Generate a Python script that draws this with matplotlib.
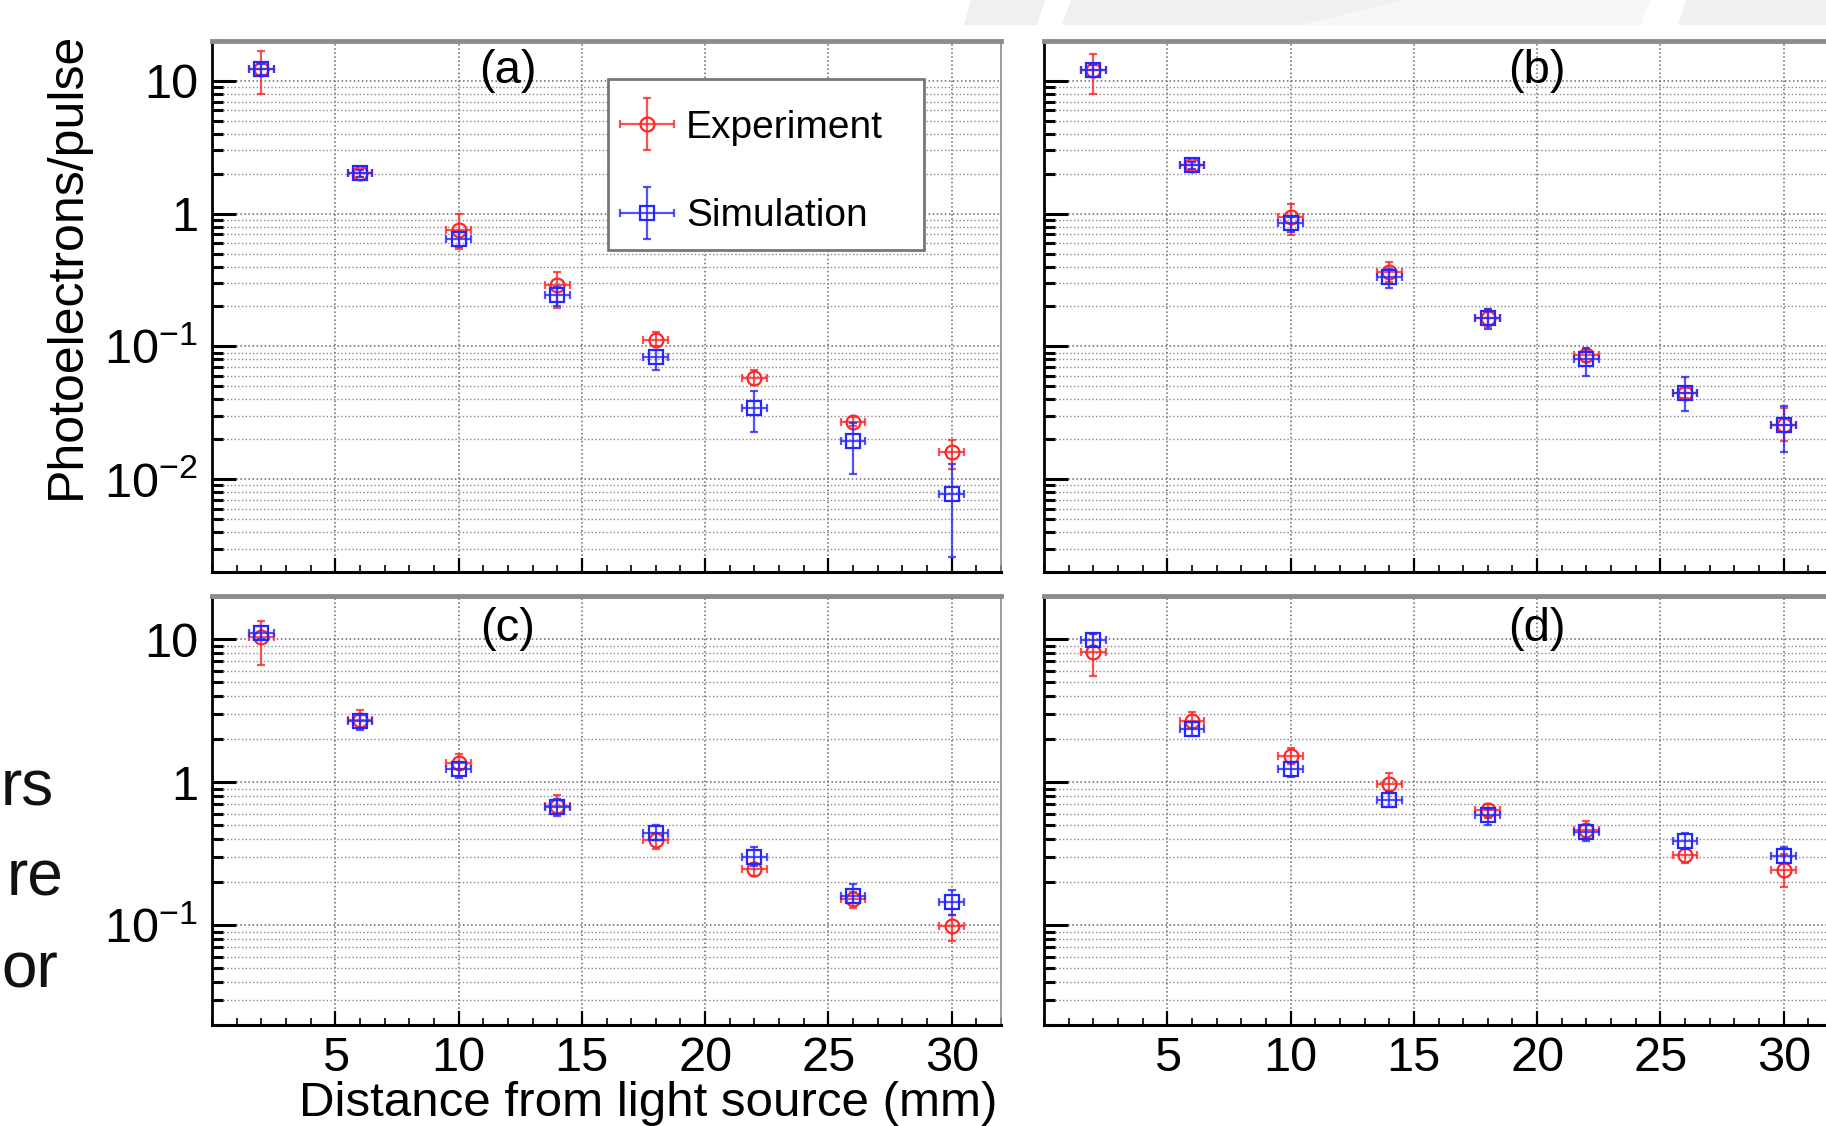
import numpy as np
import matplotlib
matplotlib.use('Agg')
import matplotlib.pyplot as plt
from matplotlib.patches import Polygon, Rectangle
from matplotlib.ticker import LogLocator, NullFormatter, FixedLocator, MultipleLocator
from matplotlib.container import ErrorbarContainer
from matplotlib.legend_handler import HandlerErrorbar

plt.rcParams['font.family'] = ['Liberation Sans', 'DejaVu Sans']
plt.rcParams['mathtext.fontset'] = 'custom'
plt.rcParams['mathtext.rm'] = 'Liberation Sans'
plt.rcParams['mathtext.it'] = 'Liberation Sans:italic'
plt.rcParams['mathtext.default'] = 'regular'

# Data (distance in mm, photoelectrons/pulse)
dist = [2, 6, 10, 14, 18, 22, 26, 30]
xerr = 0.5

exp_a = [12.3, 2.02, 0.76, 0.289, 0.112, 0.058, 0.0271, 0.016]
exp_a_lo = [8.0, 1.88, 0.54, 0.196, 0.100, 0.051, 0.0250, 0.012]
exp_a_hi = [16.9, 2.18, 1.00, 0.362, 0.129, 0.066, 0.0295, 0.0198]
sim_a = [12.3, 2.02, 0.646, 0.246, 0.0835, 0.0346, 0.0194, 0.00773]
sim_a_lo = [11.0, 1.90, 0.557, 0.200, 0.066, 0.0227, 0.011, 0.0026]
sim_a_hi = [13.5, 2.14, 0.73, 0.28, 0.094, 0.0464, 0.0266, 0.0131]

exp_b = [12.05, 2.31, 0.95, 0.367, 0.164, 0.0863, 0.0448, 0.0256]
exp_b_lo = [7.93, 2.15, 0.69, 0.308, 0.140, 0.077, 0.041, 0.0194]
exp_b_hi = [15.9, 2.48, 1.19, 0.431, 0.192, 0.094, 0.049, 0.0346]
sim_b = [12.05, 2.31, 0.846, 0.333, 0.164, 0.0798, 0.0448, 0.0256]
sim_b_lo = [10.8, 2.17, 0.734, 0.275, 0.135, 0.0598, 0.0325, 0.016]
sim_b_hi = [13.3, 2.45, 0.95, 0.386, 0.193, 0.0968, 0.0586, 0.0353]

exp_c = [10.3, 2.72, 1.36, 0.684, 0.396, 0.246, 0.152, 0.0986]
exp_c_lo = [6.56, 2.40, 1.23, 0.595, 0.34, 0.22, 0.132, 0.0776]
exp_c_hi = [13.4, 3.20, 1.56, 0.809, 0.437, 0.272, 0.169, 0.118]
sim_c = [11.0, 2.66, 1.23, 0.673, 0.438, 0.300, 0.160, 0.146]
sim_c_lo = [9.97, 2.30, 1.07, 0.578, 0.392, 0.26, 0.143, 0.118]
sim_c_hi = [12.3, 2.92, 1.37, 0.765, 0.503, 0.35, 0.195, 0.176]

exp_d = [8.1, 2.69, 1.52, 0.967, 0.64, 0.463, 0.31, 0.244]
exp_d_lo = [5.55, 2.40, 1.34, 0.832, 0.563, 0.403, 0.272, 0.186]
exp_d_hi = [10.8, 3.09, 1.72, 1.15, 0.703, 0.532, 0.34, 0.313]
sim_d = [9.86, 2.36, 1.23, 0.752, 0.585, 0.45, 0.385, 0.305]
sim_d_lo = [8.92, 2.09, 1.09, 0.665, 0.503, 0.385, 0.34, 0.272]
sim_d_hi = [10.8, 2.61, 1.37, 0.846, 0.647, 0.503, 0.438, 0.35]

x_ticks = [5, 10, 15, 20, 25, 30]
y_ticks = [0.01, 0.1, 1, 10]
y_ticklabels = [r'$10^{-2}$', r'$10^{-1}$', '1', '10']
panel_names = ['(a)', '(b)', '(c)', '(d)']
panel_xpos = [12, 20, 12, 20]
legend_labels = ['Experiment', 'Simulation']
side_text = ['rs', 're', 'or']

W, H = 1826, 1126
fig = plt.figure(figsize=(W / 100, H / 100), dpi=100)
fig.patch.set_facecolor('white')

# slide decoration behind the plots (pixel coords)
bg = fig.add_axes([0, 0, 1, 1], zorder=-10)
bg.set_xlim(0, W)
bg.set_ylim(H, 0)
bg.axis('off')
grey = '#f0f0ef'
light = '#f7f7f5'
bg.add_patch(Polygon([(971, 0), (1045, 0), (1037, 25), (964, 25)], color=grey, lw=0))
bg.add_patch(Polygon([(1071, 0), (1405, 0), (1302, 25), (1062, 25)], color=grey, lw=0))
bg.add_patch(Polygon([(1405, 0), (1650, 0), (1641, 25), (1302, 25)], color=light, lw=0))
bg.add_patch(Polygon([(1686, 0), (W, 0), (W, 25), (1678, 25)], color=grey, lw=0))

def box(left, top, right, bottom):
    return [left / W, 1 - bottom / H, (right - left) / W, (bottom - top) / H]

axes_pos = [box(212, 41, 1001, 572), box(1044, 41, 1833, 572),
            box(212, 596, 1001, 1025), box(1044, 596, 1833, 1025)]
ylims = [(0.002, 20), (0.002, 20), (0.02, 20), (0.02, 20)]
label_y = [0.9435, 0.9435, 0.923, 0.923]

series = [
    (exp_a, exp_a_lo, exp_a_hi, sim_a, sim_a_lo, sim_a_hi),
    (exp_b, exp_b_lo, exp_b_hi, sim_b, sim_b_lo, sim_b_hi),
    (exp_c, exp_c_lo, exp_c_hi, sim_c, sim_c_lo, sim_c_hi),
    (exp_d, exp_d_lo, exp_d_hi, sim_d, sim_d_lo, sim_d_hi),
]

red = (1.0, 0.15, 0.15)
blue = (0.15, 0.15, 1.0)
handles = []

for i, (pos, yl, s) in enumerate(zip(axes_pos, ylims, series)):
    ax = fig.add_axes(pos)
    ey, eylo, eyhi, sy, sylo, syhi = [np.asarray(v) for v in s]

    he = ax.errorbar(dist, ey, yerr=[ey - eylo, eyhi - ey], xerr=xerr, fmt='o',
                     ms=10, mfc='none', mec=red, mew=1.6, ecolor=red + (0.8,),
                     elinewidth=1.6, capsize=3, capthick=1.6, zorder=3)
    hs = ax.errorbar(dist, sy, yerr=[sy - sylo, syhi - sy], xerr=xerr, fmt='s',
                     ms=10, mfc='none', mec=blue, mew=1.6, ecolor=blue + (0.8,),
                     elinewidth=1.6, capsize=3, capthick=1.6, zorder=4)
    if i == 0:
        handles = [he, hs]

    ax.set_yscale('log')
    ax.set_xlim(0, 32)
    ax.xaxis.set_major_locator(FixedLocator(x_ticks))
    ax.xaxis.set_minor_locator(MultipleLocator(1))
    ax.yaxis.set_major_locator(FixedLocator(y_ticks))
    ax.yaxis.set_minor_locator(LogLocator(base=10, subs=np.arange(2, 10)))
    ax.yaxis.set_minor_formatter(NullFormatter())
    if i in (0, 2):
        ax.set_yticklabels(y_ticklabels)
    else:
        ax.set_yticklabels([])
    if i in (2, 3):
        ax.set_xticklabels([str(t) for t in x_ticks])
    else:
        ax.set_xticklabels([])
    ax.set_ylim(*yl)

    ax.grid(which='major', ls=':', color='#666666', lw=1.1)
    ax.grid(which='minor', axis='y', ls=':', color='#8a8a8a', lw=1.0)
    ax.set_axisbelow(True)

    ax.tick_params(which='both', direction='in', top=False, right=False,
                   labelsize=35, colors='black')
    ax.tick_params(axis='y', which='major', length=17, width=2.2, pad=10)
    ax.tick_params(axis='y', which='minor', length=8, width=2.2)
    ax.tick_params(axis='x', which='major', length=10, width=1.6, pad=8)
    ax.tick_params(axis='x', which='minor', length=5, width=1.2)

    ax.spines['left'].set_linewidth(2)
    ax.spines['bottom'].set_linewidth(2.2)
    ax.spines['top'].set_color('#8c8c8c')
    ax.spines['top'].set_linewidth(3.5)
    ax.spines['right'].set_color('#8c8c8c')
    ax.spines['right'].set_linewidth(1.2)

    ax.text(panel_xpos[i], label_y[i], panel_names[i], transform=ax.get_xaxis_transform(),
            ha='center', va='center', fontsize=34)

    if i == 0:
        # legend frame drawn as a plain box, entries placed inside it
        ax.add_patch(Rectangle((608 / W, 1 - 250 / H), 316 / W, 171 / H,
                               transform=fig.transFigure, facecolor='white',
                               edgecolor='#777777', lw=2, zorder=5, clip_on=False))
        leg = ax.legend(handles, legend_labels, loc='center left',
                        bbox_to_anchor=(620 / W, 1 - 172 / H), bbox_transform=fig.transFigure,
                        borderaxespad=0, borderpad=0, fontsize=28, frameon=False,
                        handlelength=1.4, handletextpad=0.3, labelspacing=1.35,
                        handler_map={ErrorbarContainer: HandlerErrorbar(xerr_size=0.7, yerr_size=0.67)})
        leg.set_zorder(6)

fig.text(67 / W, 1 - 265 / H, 'Photoelectrons/pulse', rotation=90,
         ha='center', va='center', fontsize=36)
fig.text(997 / W, 1 - 1116 / H, 'Distance from light source (mm)',
         ha='right', va='baseline', fontsize=35.5)

for txt, xr, yb in zip(side_text, [54, 63, 58], [805, 895, 987]):
    fig.text(xr / W, 1 - yb / H, txt, ha='right', va='baseline', fontsize=46, color='#111111')

plt.savefig('out.png', dpi=100)
